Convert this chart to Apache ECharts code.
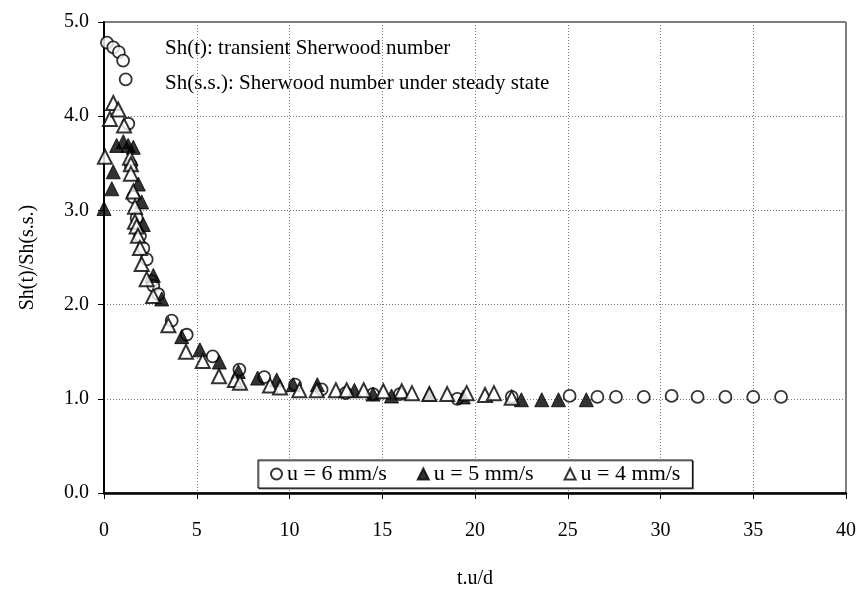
<!DOCTYPE html>
<html>
<head>
<meta charset="utf-8">
<script src="https://cdn.jsdelivr.net/npm/echarts@6/dist/echarts.min.js"></script>
<style>
  html, body { margin: 0; padding: 0; background: #fff; }
  #chart { width: 863px; height: 594px; }
</style>
</head>
<body>
<div id="chart"></div>
<script>
// --- Data ---

const xTicks = [0, 5, 10, 15, 20, 25, 30, 35, 40];
const yTicks = [0, 1, 2, 3, 4, 5];

// u = 6 mm/s (open circles)
const u6 = [
    [0.16, 4.78], [0.5, 4.73], [0.8, 4.68], [1.03, 4.59], [1.17, 4.39], [1.31, 3.92],
    [1.45, 3.48], [1.58, 3.14], [1.76, 2.92], [1.94, 2.73], [2.12, 2.6], [2.3, 2.48],
    [2.57, 2.25], [2.66, 2.2], [2.93, 2.11], [3.65, 1.83], [4.46, 1.68], [5.86, 1.45],
    [7.3, 1.31], [8.64, 1.23], [10.3, 1.15], [11.73, 1.1], [13.03, 1.06], [14.5, 1.05],
    [15.95, 1.05], [19.05, 1.0], [21.98, 1.02], [25.1, 1.03], [26.6, 1.02], [27.6, 1.02],
    [29.1, 1.02], [30.6, 1.03], [32.0, 1.02], [33.5, 1.02], [35.0, 1.02], [36.5, 1.02]
];

// u = 5 mm/s (filled triangles)
const u5 = [
    [0.0, 3.02], [0.42, 3.23], [0.5, 3.41], [0.68, 3.69], [1.04, 3.73], [1.3, 3.69],
    [1.58, 3.67], [1.85, 3.28], [2.03, 3.09], [2.12, 2.85], [2.66, 2.31], [3.11, 2.06],
    [4.19, 1.66], [5.17, 1.52], [6.22, 1.39], [7.24, 1.29], [8.28, 1.22], [9.31, 1.2],
    [10.2, 1.15], [11.5, 1.15], [13.5, 1.09], [14.5, 1.05], [15.5, 1.03], [17.54, 1.05],
    [19.37, 1.02], [22.5, 0.99], [23.6, 0.99], [24.5, 0.99], [26.0, 0.99]
];

// u = 4 mm/s (open triangles)
const u4 = [
    [0.05, 3.57], [0.32, 3.97], [0.5, 4.14], [0.77, 4.07], [1.08, 3.9], [1.4, 3.56],
    [1.45, 3.49], [1.45, 3.39], [1.58, 3.2], [1.67, 3.04], [1.67, 2.88], [1.76, 2.83],
    [1.83, 2.73], [1.94, 2.6], [2.03, 2.43], [2.3, 2.27], [2.65, 2.09], [3.47, 1.78],
    [4.42, 1.5], [5.32, 1.4], [6.2, 1.24], [7.06, 1.2], [7.33, 1.17], [8.95, 1.14],
    [9.49, 1.12], [10.53, 1.09], [11.47, 1.09], [12.5, 1.09], [13.08, 1.09], [14.0, 1.09],
    [15.06, 1.08], [16.05, 1.08], [16.6, 1.06], [17.54, 1.05], [18.5, 1.05], [19.55, 1.06],
    [20.54, 1.04], [21.02, 1.06], [21.98, 1.01]
];

const FONT = '"Liberation Serif", "Times New Roman", serif';

// --- Render ---

const chart = echarts.init(document.getElementById('chart'));

const dotted = { lineStyle: { color: '#777', type: [1, 2], width: 1 } };

chart.setOption({
    animation: false,
    backgroundColor: '#fff',
    grid: {
        left: 104, right: 17, top: 22, bottom: 96,
        show: true, borderColor: '#000', borderWidth: 1
    },
    xAxis: {
        type: 'value',
        min: xTicks[0], max: xTicks[xTicks.length - 1], interval: 5,
        name: 't.u/d', nameLocation: 'middle', nameGap: 76,
        nameTextStyle: { fontFamily: FONT, fontSize: 20, color: '#000' },
        axisLine: { lineStyle: { color: '#000', width: 2.5 } },
        axisTick: { show: true, length: 6, lineStyle: { color: '#000' } },
        axisLabel: { fontFamily: FONT, fontSize: 20, color: '#000', margin: 28 },
        splitLine: Object.assign({ show: true }, dotted)
    },
    yAxis: {
        type: 'value',
        min: yTicks[0], max: yTicks[yTicks.length - 1], interval: 1,
        name: 'Sh(t)/Sh(s.s.)', nameLocation: 'middle', nameGap: 66,
        nameTextStyle: { fontFamily: FONT, fontSize: 20, color: '#000' },
        axisLine: { show: true, lineStyle: { color: '#000', width: 2 } },
        axisTick: { show: true, length: 6, lineStyle: { color: '#000' } },
        axisLabel: {
            fontFamily: FONT, fontSize: 20, color: '#000', margin: 15,
            formatter: v => v.toFixed(1)
        },
        splitLine: Object.assign({ show: true }, dotted)
    },
    legend: {
        left: 258, top: 460,
        padding: [3, 12, 3, 12],
        backgroundColor: '#fff', borderColor: '#000', borderWidth: 1,
        shadowColor: 'rgba(0,0,0,0.5)', shadowOffsetX: 1, shadowOffsetY: 1,
        itemWidth: 11, itemHeight: 11, itemGap: 30,
        textStyle: { fontFamily: FONT, fontSize: 22, color: '#000' },
        data: ['u = 6 mm/s', 'u = 5 mm/s', 'u = 4 mm/s']
    },
    graphic: [
        {
            type: 'text', left: 165, top: 38,
            style: { text: 'Sh(t): transient Sherwood number', font: '21px ' + FONT, fill: '#000' }
        },
        {
            type: 'text', left: 165, top: 73,
            style: { text: 'Sh(s.s.): Sherwood number under steady state', font: '21px ' + FONT, fill: '#000' }
        }
    ],
    series: [
        {
            name: 'u = 6 mm/s', type: 'scatter', data: u6,
            symbol: 'circle', symbolSize: 12,
            itemStyle: { color: '#fff', borderColor: '#000', borderWidth: 1.8 }
        },
        {
            name: 'u = 5 mm/s', type: 'scatter', data: u5,
            symbol: 'triangle', symbolSize: 14,
            itemStyle: { color: '#000', borderColor: '#000', borderWidth: 1 }
        },
        {
            name: 'u = 4 mm/s', type: 'scatter', data: u4,
            symbol: 'triangle', symbolSize: 14,
            itemStyle: { color: '#fff', borderColor: '#000', borderWidth: 2 }
        }
    ]
});
</script>
</body>
</html>
